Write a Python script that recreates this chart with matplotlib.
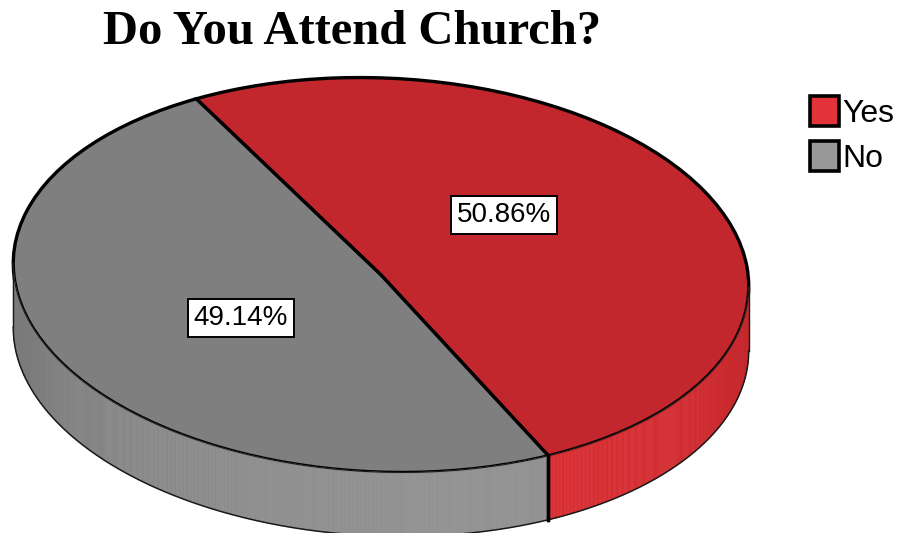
import numpy as np
import matplotlib
matplotlib.use("Agg")
import matplotlib.pyplot as plt
from matplotlib.transforms import Affine2D
from matplotlib.collections import PolyCollection
from matplotlib.patches import Patch

# data
categories = ["Yes", "No"]
percents = [50.86, 49.14]
top_colors = ["#c1272d", "#7f7f7f"]
side_colors = ["#d52c31", "#8e8e8e"]
legend_colors = ["#e2333a", "#999999"]

# geometry of the tilted disc (pixel units, y up)
W, H = 899, 533
cx, cy = 381, 258
a, b = 368, 197
tilt = -2.5
depth = 64
label_pos = [(504, H - 215), (241, H - 318)]

fig = plt.figure(figsize=(W / 100, H / 100), dpi=100)
ax = fig.add_axes([0, 0, 1, 1])

wedges, _ = ax.pie(percents, colors=top_colors, startangle=121.5, counterclock=False,
                   wedgeprops=dict(edgecolor="black", linewidth=2.4))
T = Affine2D().scale(a, b).rotate_deg(tilt).translate(cx, cy)
for w in wedges:
    w.set_transform(T + ax.transData)
    w.set_zorder(2)

ax.set_aspect("auto")
ax.set_xlim(0, W)
ax.set_ylim(0, H)
ax.axis("off")


def ring(t):
    t = np.atleast_1d(t)
    pts = np.column_stack([np.cos(np.radians(t)), np.sin(np.radians(t))])
    return T.transform(pts)


def slice_of(t):
    for i, w in enumerate(wedges):
        if (t - w.theta1) % 360 < (w.theta2 - w.theta1):
            return i
    return 0


# side of the disc, drawn as many thin strips with a little shading
# (run from 90 to 450 deg so the visible front part is one piece)
t = np.linspace(90, 450, 1441)
top = ring(t)
polys, cols, vis = [], [], []
for k in range(len(t) - 1):
    if top[k + 1, 0] <= top[k, 0]:
        continue
    p0, p1 = top[k], top[k + 1]
    q0, q1 = p0 - [0, depth], p1 - [0, depth]
    polys.append([p0, p1, q1, q0])
    tm = 0.5 * (t[k] + t[k + 1])
    shade = 0.86 + 0.16 * max(0.0, -np.sin(np.radians(tm - 15)))
    base = np.array(matplotlib.colors.to_rgb(side_colors[slice_of(tm)]))
    cols.append(np.clip(base * shade, 0, 1))
    vis.append(k)
side = PolyCollection(polys, facecolors=cols, edgecolors=cols, linewidths=0.4, zorder=3)
ax.add_collection(side)

vis = np.array(vis)
front = top[vis[0]:vis[-1] + 2]
ax.plot(front[:, 0], front[:, 1], color="#1a1a1a", lw=0.8, zorder=4)
ax.plot(front[:, 0], front[:, 1] - depth, color="#1a1a1a", lw=1.1, zorder=4)
for end in (front[0], front[-1]):
    ax.plot([end[0], end[0]], [end[1], end[1] - depth], color="#1a1a1a", lw=1.0, zorder=4)

# slice border on the visible side
for w in wedges:
    for ang in (w.theta1, w.theta2):
        p = ring(ang)[0]
        tq = ring([ang - 0.5, ang + 0.5])
        if tq[1, 0] > tq[0, 0]:
            ax.plot([p[0], p[0]], [p[1], p[1] - depth], color="black", lw=2.4, zorder=5)
            break

for (x, y), v in zip(label_pos, percents):
    ax.text(x, y, f"{v:.2f}%", ha="center", va="center", fontsize=20,
            family="Liberation Sans", zorder=6,
            bbox=dict(boxstyle="square,pad=0.2", fc="white", ec="black", lw=1.4))

fig.text(352 / W, 1 - 32 / H, "Do You Attend Church?", ha="center", va="center",
         family="Liberation Serif", weight="bold", fontsize=35)

handles = [Patch(facecolor=c, edgecolor="black", linewidth=2.6) for c in legend_colors]
fig.legend(handles, categories, loc="upper left", bbox_to_anchor=(810 / W, 1 - 96 / H),
           frameon=False, borderpad=0, borderaxespad=0, handlelength=0.9,
           handleheight=1.05, handletextpad=0.1, labelspacing=0.4,
           prop=dict(family="Liberation Sans", size=23))

fig.savefig("out.png", dpi=100)
